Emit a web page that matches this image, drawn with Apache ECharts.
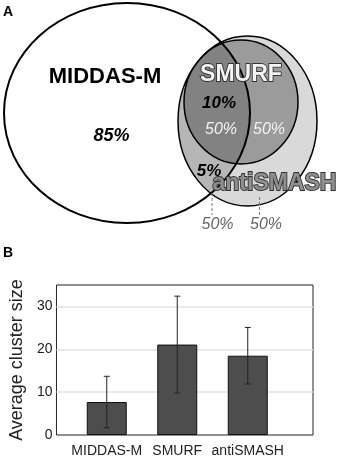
<!DOCTYPE html>
<html>
<head>
<meta charset="utf-8">
<script src="https://cdn.jsdelivr.net/npm/echarts@6/dist/echarts.min.js"></script>
<style>
  html, body { margin: 0; padding: 0; background: #fff; }
  #chart { width: 340px; height: 458px; }
</style>
</head>
<body>
<div id="chart"></div>
<script>
// A: venn sets and the shares written in each region
const vennSets = ['MIDDAS-M', 'SMURF', 'antiSMASH'];
const shareMiddasOnly = '85%';
const shareMiddasSmurf = '10%';
const shareMiddasAnti = '5%';
const shareSmurf = ['50%', '50%'];
const shareAnti = ['50%', '50%'];

// B: average cluster size with error range
const clusters = ['MIDDAS-M', 'SMURF', 'antiSMASH'];
const avgSize = [7.7, 21.1, 18.5];
const sizeLow = [1.7, 9.8, 11.9];
const sizeHigh = [13.7, 32.4, 25.1];

// venn layout, in units of the hidden venn axes
const ellMiddas = { cx: 127, cy: 113, rx: 123, ry: 110 };
const ellSmurf = { cx: 241, cy: 102, rx: 57, ry: 62 };
const ellAnti = { cx: 247.5, cy: 121, rx: 69.5, ry: 85 };

const FONT = '"Liberation Sans", Arial, sans-serif';

function renderVenn(params, api) {
  function ell(e) {
    const c = api.coord([e.cx, e.cy]);
    const s = api.size([e.rx, e.ry]);
    return { cx: c[0], cy: c[1], rx: Math.abs(s[0]), ry: Math.abs(s[1]) };
  }
  function txt(x, y, text, style) {
    const p = api.coord([x, y]);
    return {
      type: 'text', x: p[0], y: p[1], z2: 20,
      style: Object.assign({ text: text, align: 'center', verticalAlign: 'middle' }, style)
    };
  }
  function dash(x, y1, y2) {
    const a = api.coord([x, y1]), b = api.coord([x, y2]);
    return {
      type: 'line', z2: 15,
      shape: { x1: a[0], y1: a[1], x2: b[0], y2: b[1] },
      style: { stroke: '#777', lineWidth: 1, lineDash: [3, 2] }
    };
  }
  const mid = ell(ellMiddas), smu = ell(ellSmurf), ant = ell(ellAnti);
  return {
    type: 'group',
    children: [
      { type: 'ellipse', z2: 1, shape: ant, style: { fill: '#d9d9d9' } },
      { type: 'ellipse', z2: 2, shape: smu, style: { fill: '#9b9b9b' } },
      // darker where MIDDAS-M overlaps
      { type: 'ellipse', z2: 3, shape: ant, style: { fill: 'rgba(0,0,0,0.16)' },
        clipPath: { type: 'ellipse', shape: mid } },
      { type: 'ellipse', z2: 10, shape: ant, style: { fill: 'none', stroke: '#000', lineWidth: 1.5 } },
      { type: 'ellipse', z2: 10, shape: smu, style: { fill: 'none', stroke: '#000', lineWidth: 1.5 } },
      { type: 'ellipse', z2: 11, shape: mid, style: { fill: 'none', stroke: '#000', lineWidth: 2 } },
      dash(212, 193, 215),
      dash(259.5, 197, 215),
      txt(105, 77, vennSets[0], { fill: '#000', font: 'bold 22px ' + FONT }),
      txt(111.5, 136, shareMiddasOnly, { fill: '#000', font: 'italic bold 18px ' + FONT }),
      txt(241, 75, vennSets[1], { fill: '#f4f4f4', stroke: '#333', lineWidth: 1.8, font: 'bold 23px ' + FONT }),
      txt(219, 103.5, shareMiddasSmurf, { fill: '#000', font: 'italic bold 17px ' + FONT }),
      txt(221, 130, shareSmurf[0], { fill: '#f2f2f2', font: 'italic 16px ' + FONT }),
      txt(269, 130, shareSmurf[1], { fill: '#f2f2f2', font: 'italic 16px ' + FONT }),
      txt(209, 171, shareMiddasAnti, { fill: '#000', font: 'italic bold 17px ' + FONT }),
      txt(274.5, 183.5, vennSets[2], { fill: '#8f8f8f', stroke: '#333', lineWidth: 1.8, font: 'bold 23px ' + FONT }),
      txt(217.5, 225, shareAnti[0], { fill: '#666', font: 'italic 16px ' + FONT }),
      txt(266, 225, shareAnti[1], { fill: '#666', font: 'italic 16px ' + FONT })
    ]
  };
}

function renderErr(params, api) {
  const lo = api.coord([api.value(0), api.value(1)]);
  const hi = api.coord([api.value(0), api.value(2)]);
  const cap = 3;
  const st = { stroke: '#222', lineWidth: 1 };
  return {
    type: 'group',
    children: [
      { type: 'line', shape: { x1: lo[0], y1: lo[1], x2: hi[0], y2: hi[1] }, style: st },
      { type: 'line', shape: { x1: lo[0] - cap, y1: lo[1], x2: lo[0] + cap, y2: lo[1] }, style: st },
      { type: 'line', shape: { x1: hi[0] - cap, y1: hi[1], x2: hi[0] + cap, y2: hi[1] }, style: st }
    ]
  };
}

const chart = echarts.init(document.getElementById('chart'));
chart.setOption({
  animation: false,
  textStyle: { fontFamily: FONT },
  graphic: [
    { type: 'text', left: 3, top: 5, style: { text: 'A', font: 'bold 14px ' + FONT, fill: '#000' } },
    { type: 'text', left: 3, top: 246, style: { text: 'B', font: 'bold 14px ' + FONT, fill: '#000' } }
  ],
  grid: [
    { left: 0, top: 0, width: 340, height: 230 },
    { left: 47, top: 285, width: 266, height: 150, show: true, borderColor: '#222', borderWidth: 1 },
    { left: 71.5, top: 285, width: 211.5, height: 150 }
  ],
  xAxis: [
    { type: 'value', gridIndex: 0, min: 0, max: 340, show: false },
    { type: 'value', gridIndex: 1, min: 0, max: 1, show: false },
    {
      type: 'category', gridIndex: 2, data: clusters,
      axisLine: { show: false }, axisTick: { show: false },
      axisLabel: { color: '#222', fontSize: 14, margin: 9, interval: 0 }
    }
  ],
  yAxis: [
    { type: 'value', gridIndex: 0, min: 0, max: 230, inverse: true, show: false },
    {
      type: 'value', gridIndex: 1, min: 0, max: 35, interval: 10,
      name: 'Average cluster size', nameLocation: 'middle', nameGap: 22,
      nameTextStyle: { fontSize: 18, color: '#222' },
      axisLine: { show: false }, axisTick: { show: false },
      axisLabel: { color: '#222', fontSize: 14, margin: 4, showMaxLabel: false },
      splitLine: { showMinLine: false, showMaxLine: false, lineStyle: { color: '#e2e2e2', width: 1.5 } }
    },
    { type: 'value', gridIndex: 2, min: 0, max: 35, show: false }
  ],
  series: [
    {
      type: 'custom', xAxisIndex: 0, yAxisIndex: 0, clip: false,
      data: [[0, 0]], renderItem: renderVenn, silent: true
    },
    {
      type: 'bar', xAxisIndex: 2, yAxisIndex: 2, data: avgSize, barWidth: 40,
      itemStyle: { color: '#4d4d4d', borderColor: '#111', borderWidth: 1 }
    },
    {
      type: 'custom', xAxisIndex: 2, yAxisIndex: 2, z: 5,
      data: clusters.map((c, i) => [i, sizeLow[i], sizeHigh[i]]),
      renderItem: renderErr
    }
  ]
});
</script>
</body>
</html>
